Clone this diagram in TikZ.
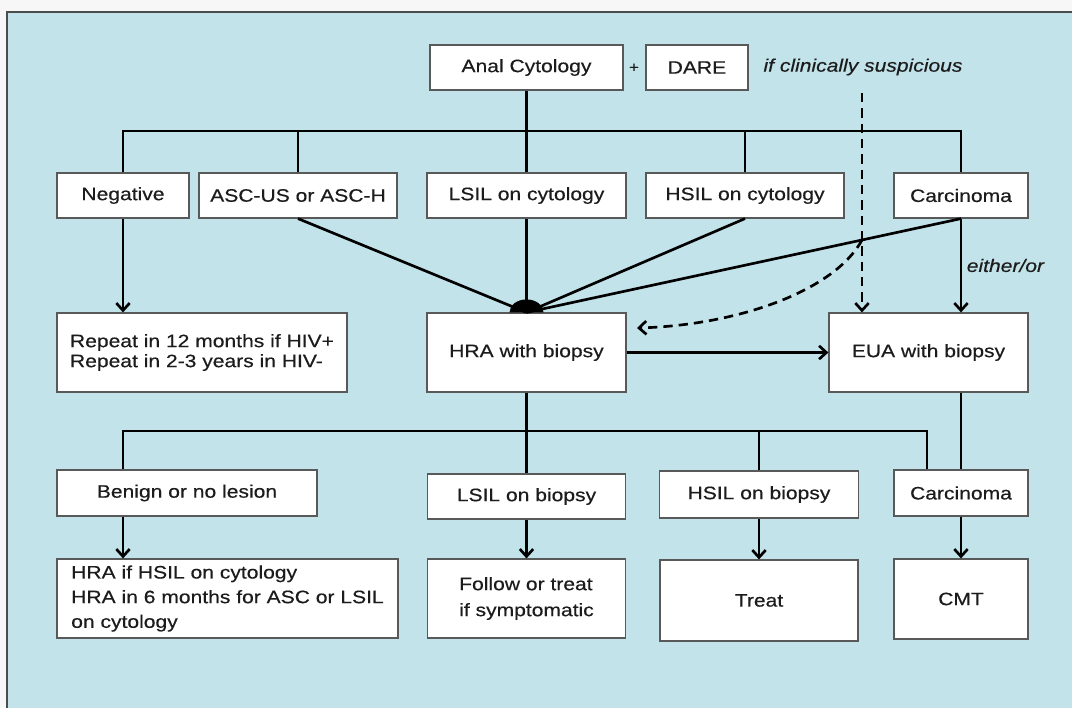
\documentclass[tikz,border=0pt]{standalone}
\usepackage{fontspec}
\setmainfont{Liberation Sans}[FakeStretch=1.17,FakeBold=0.4]
\usetikzlibrary{arrows.meta,shadows}
\definecolor{bgblue}{HTML}{C3E3EB}
\definecolor{inkgray}{HTML}{1C1C1C}
\tikzset{
	box/.style={draw=black!65, line width=0.9pt, fill=white, text=inkgray,
		drop shadow={shadow xshift=0.7pt,shadow yshift=-0.9pt,opacity=0.35},
		font=\fontsize{13.5}{15}\selectfont, inner sep=2pt},
	wh/.style 2 args={minimum width=#1*0.75pt, minimum height=#2*0.75pt},
	note/.style={text=inkgray, font=\fontsize{13.5}{15}\selectfont\itshape},
	dsh/.style={dash pattern=on 7pt off 4.5pt}
}

\begin{document}
\begin{tikzpicture}[x=0.75pt,y=-0.75pt,
	>={Straight Barb[length=5.5pt,width=10pt]},
	line width=2pt]
	\useasboundingbox (0,0) rectangle (1072,708);
	\fill[black!3] (0,0) rectangle (1072,708);
	\fill[bgblue] (7,12) rectangle (1072,708);
	\draw[black!70, line width=1pt] (1072,12) -- (7,12) -- (7,708);

		\node[box, wh={193}{45}] (AC) at (526.5,67.5) {Anal Cytology};
		\node[text=inkgray, font=\fontsize{11}{13}\selectfont] (PL) at (634,68) {+};
		\node[box, wh={102}{45}] (DARE) at (697,67.5) {DARE};
		\node[note] (SUS) at (863,67) {if clinically suspicious};

		\node[box, wh={132}{45}] (NEG) at (123,195.5) {Negative};
		\node[box, wh={198}{45}] (ASC) at (298,195.5) {ASC-US or ASC-H};
		\node[box, wh={199}{45}] (LSC) at (526.5,195.5) {LSIL on cytology};
		\node[box, wh={198}{45}] (HSC) at (745,195.5) {HSIL on cytology};
		\node[box, wh={134}{45}] (CAC) at (961,195.5) {Carcinoma};

		\node[box, wh={290}{79}, align=left] (REP) at (202,352.5) {Repeat in 12 months if HIV+\\Repeat in 2-3 years in HIV-};
		\node[box, wh={199}{79}] (HRA) at (526.5,352.5) {HRA with biopsy};
		\node[box, wh={199}{79}] (EUA) at (928.5,352.5) {EUA with biopsy};

		\node[box, wh={260}{46}] (BEN) at (187,493) {Benign or no lesion};
		\node[box, wh={198}{45}] (LSB) at (526.5,496.5) {LSIL on biopsy};
		\node[box, wh={199}{47}] (HSB) at (759,494.5) {HSIL on biopsy};
		\node[box, wh={134}{46}] (CAB) at (961,493) {Carcinoma};

		\node[box, wh={341}{79}, align=left, font=\fontsize{13.5}{18.5}\selectfont] (HIF) at (227.5,598.5) {HRA if HSIL on cytology\\HRA in 6 months for ASC or LSIL\\on cytology};
		\node[box, wh={198}{79}, align=left, font=\fontsize{13.5}{19.5}\selectfont] (FOL) at (526.5,598.5) {Follow or treat\\if symptomatic};
		\node[box, wh={198}{81}] (TRT) at (759,600.5) {Treat};
		\node[box, wh={134}{80}] (CMT) at (961,599) {CMT};

		\coordinate (T1) at (526.5,131);
		\coordinate (T2) at (123,431);
		\coordinate (T3) at (927,431);
		\coordinate (D1) at (862,93);
		\coordinate (D2) at (862,240);
		\coordinate (D3) at (637,328);

		\draw (AC) -- (LSC);
		\draw (NEG.north) |- (T1) -| (CAC.north);
		\draw (ASC.north) -- (ASC.north |- T1);
		\draw (HSC.north) -- (HSC.north |- T1);
		\path[->] (NEG) edge (NEG |- REP.north);
		\draw (ASC.south) -- (HRA.north);
		\draw (LSC) -- (HRA);
		\draw (HSC.south) -- (HRA.north);
		\draw (CAC.south) -- (HRA.north);
		\fill (HRA.north) ++(17,0) arc[start angle=0,end angle=-180,x radius=17,y radius=13] -- cycle;
		\path[->] (CAC.south) edge node[note, right] {either/or} (CAC.south |- EUA.north);
		\path[->, dsh] (D1) edge (D1 |- EUA.north);
		\draw[->, dsh] (D2) .. controls (835,290) and (740,325) .. (D3);
		\path[->] (HRA) edge (EUA);

		\draw (HRA) -- (LSB);
		\draw (T2 |- BEN.north) -- (T2) -- (T3) -- (T3 |- CAB.north);
		\draw (HSB.north) -- (HSB.north |- T3);
		\draw (CAB.north |- EUA.south) -- (CAB.north);
		\path[->] (T2 |- BEN.south) edge (T2 |- HIF.north);
		\path[->] (LSB) edge (FOL);
		\path[->] (HSB) edge (TRT);
		\path[->] (CAB) edge (CMT);
	\end{tikzpicture}
\end{document}
